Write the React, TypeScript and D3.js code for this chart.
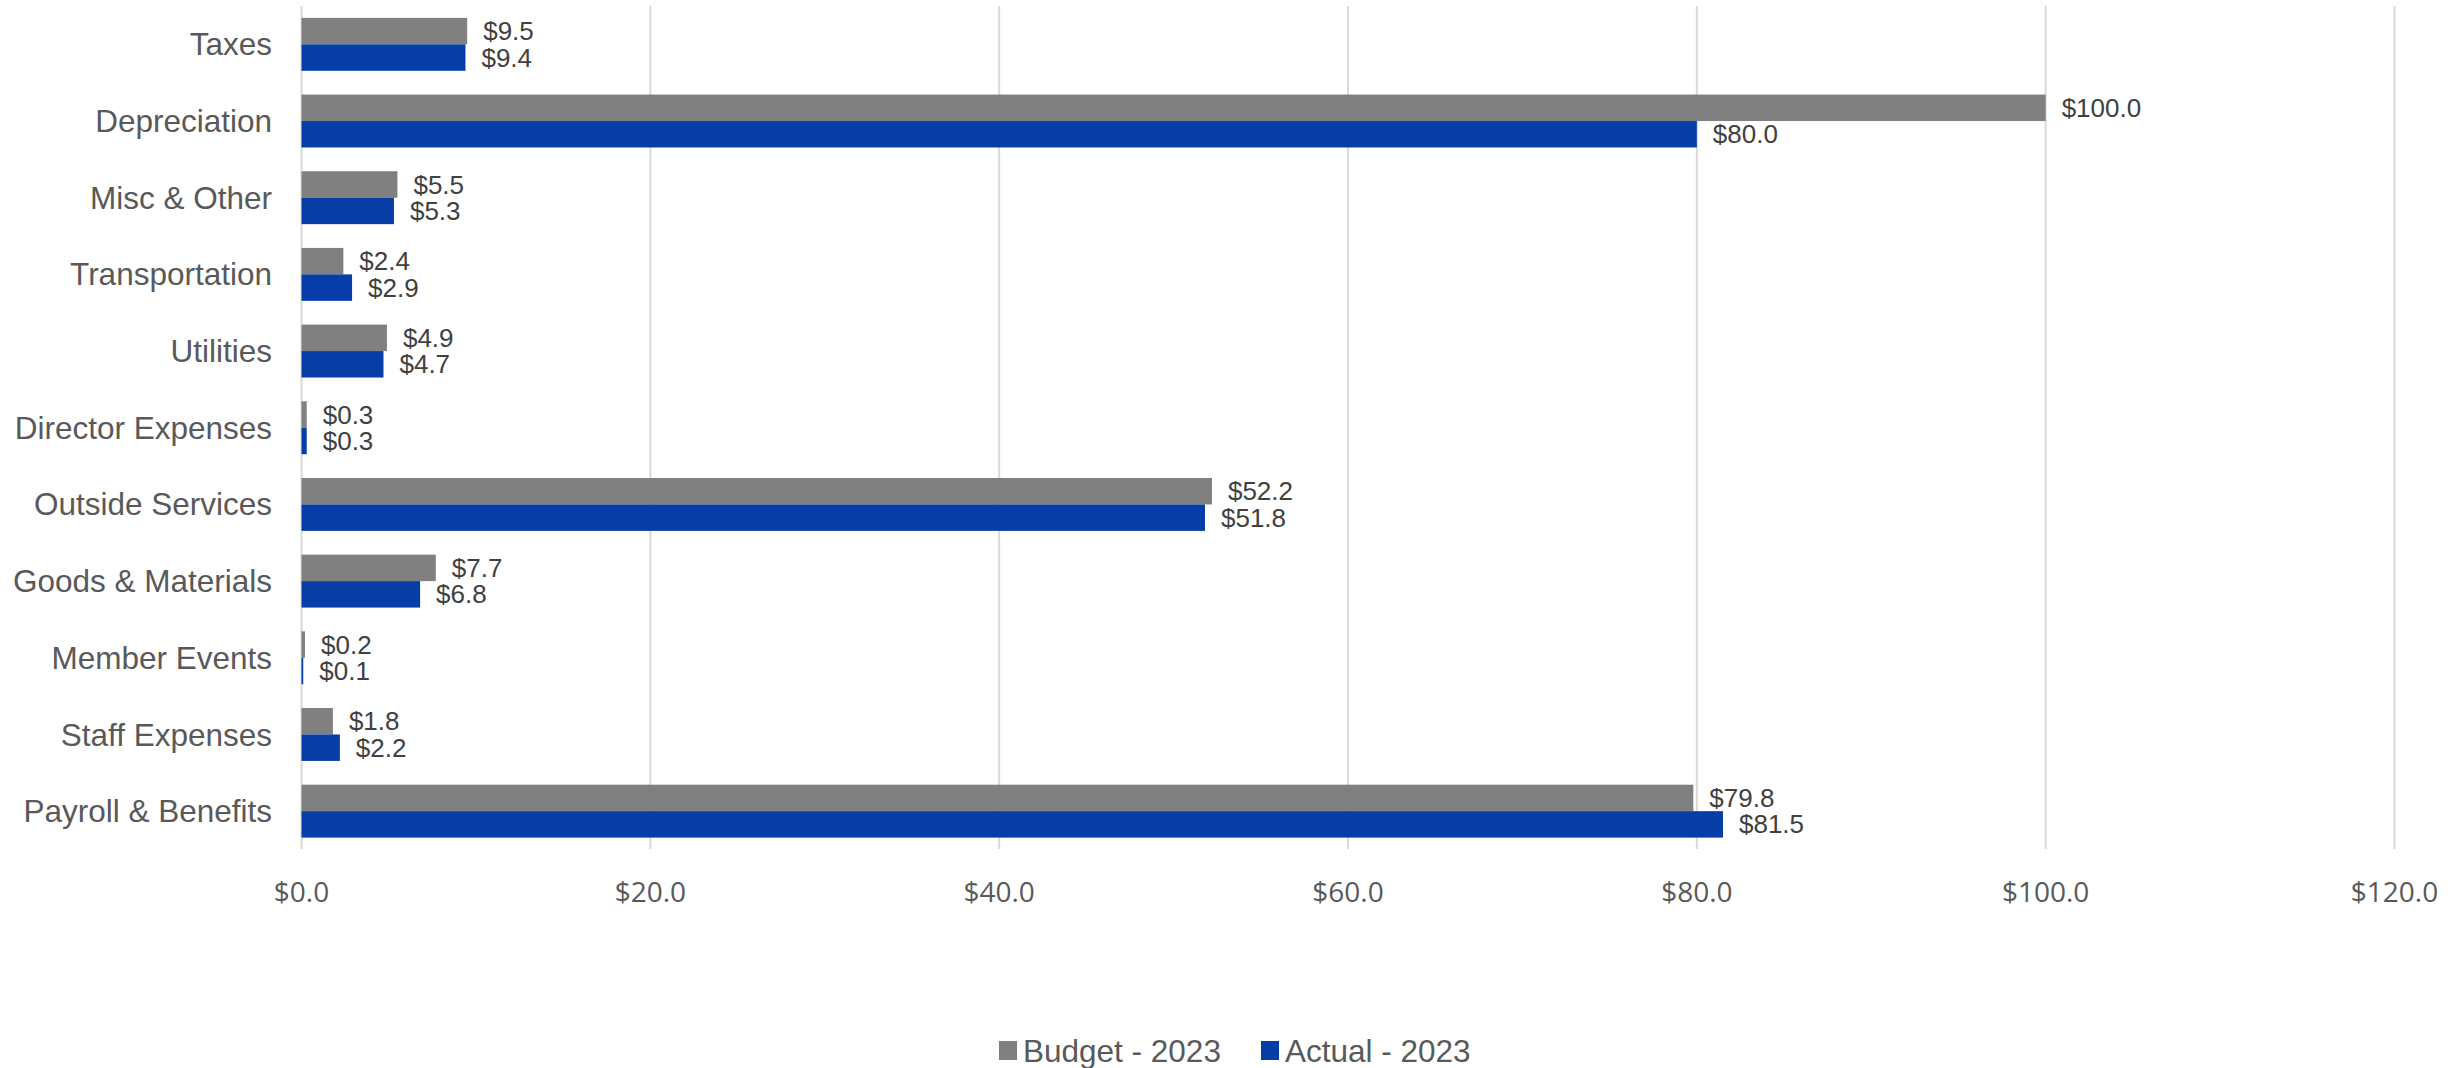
import React from "react";
import * as d3 from "d3";

const categories = [
  "Taxes",
  "Depreciation",
  "Misc & Other",
  "Transportation",
  "Utilities",
  "Director Expenses",
  "Outside Services",
  "Goods & Materials",
  "Member Events",
  "Staff Expenses",
  "Payroll & Benefits",
];
const budget2023 = [9.5, 100.0, 5.5, 2.4, 4.9, 0.3, 52.2, 7.7, 0.2, 1.8, 79.8];
const actual2023 = [9.4, 80.0, 5.3, 2.9, 4.7, 0.3, 51.8, 6.8, 0.1, 2.2, 81.5];
const seriesNames = ["Budget - 2023", "Actual - 2023"];
const seriesColors = ["#808080", "#063DA6"];
const xTicks = [0, 20, 40, 60, 80, 100, 120];

const W = 2464;
const H = 1068;

export default function App() {
  const x = d3.scaleLinear().domain([0, 120]).range([301.5, 2394.5]);
  const y = d3
    .scaleBand<string>()
    .domain(categories)
    .range([6, 849.5])
    .paddingInner(0.31)
    .paddingOuter(0.155);
  const sub = d3
    .scaleBand<string>()
    .domain(seriesNames)
    .range([0, y.bandwidth()]);
  const series = [budget2023, actual2023];
  const fmt = (v: number) => "$" + d3.format(".1f")(v);

  const legendItems = [
    { name: seriesNames[0], color: seriesColors[0], sx: 999, tx: 1023 },
    { name: seriesNames[1], color: seriesColors[1], sx: 1261, tx: 1285 },
  ];

  return (
    <svg
      width={W}
      height={H}
      style={{ position: "absolute", left: 0, top: 0, background: "#fff" }}
    >
      <rect x={0} y={0} width={W} height={H} fill="#fff" />
      {xTicks.map((t) => (
        <line
          key={"g" + t}
          x1={x(t)}
          x2={x(t)}
          y1={6}
          y2={849}
          stroke="#D9D9D9"
          strokeWidth={2}
        />
      ))}
      {categories.map((c, i) =>
        series.map((s, k) => {
          const y0 = (y(c) as number) + (sub(seriesNames[k]) as number);
          const bh = sub.bandwidth();
          return (
            <g key={c + k}>
              <rect
                x={x(0)}
                y={y0}
                width={x(s[i]) - x(0)}
                height={bh}
                fill={seriesColors[k]}
              />
              <text
                x={x(s[i]) + 16}
                y={y0 + bh / 2}
                dy="0.35em"
                fontFamily="'Liberation Sans', Arial, sans-serif"
                fontSize={26}
                fill="#404040"
              >
                {fmt(s[i])}
              </text>
            </g>
          );
        })
      )}
      {categories.map((c) => (
        <text
          key={"l" + c}
          x={272}
          y={(y(c) as number) + y.bandwidth() / 2}
          dy="0.35em"
          textAnchor="end"
          fontFamily="'Liberation Sans', Arial, sans-serif"
          fontSize={31.5}
          fill="#595959"
        >
          {c}
        </text>
      ))}
      {xTicks.map((t) => (
        <text
          key={"t" + t}
          x={x(t)}
          y={892}
          dy="0.35em"
          textAnchor="middle"
          fontFamily="'Open Sans', sans-serif"
          fontSize={28}
          fill="#595959"
        >
          {fmt(t)}
        </text>
      ))}
      {legendItems.map((d) => (
        <g key={d.name}>
          <rect x={d.sx} y={1041} width={18} height={19} fill={d.color} />
          <text
            x={d.tx}
            y={1050.5}
            dy="0.35em"
            fontFamily="'Liberation Sans', Arial, sans-serif"
            fontSize={31.5}
            fill="#595959"
          >
            {d.name}
          </text>
        </g>
      ))}
    </svg>
  );
}
